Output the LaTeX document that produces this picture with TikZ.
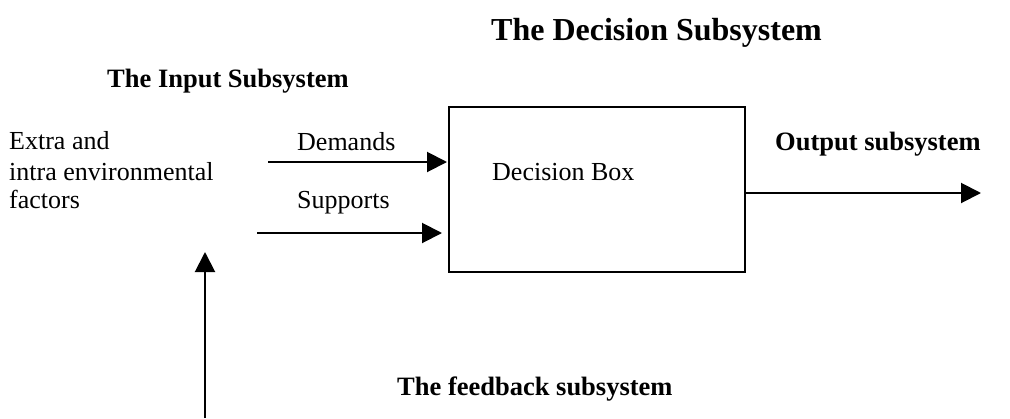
\documentclass[tikz,border=0pt]{standalone}
\usepackage{fontspec}
\setmainfont{Liberation Serif}
\usetikzlibrary{arrows.meta}

\tikzset{
  txt/.style={anchor=base west, inner sep=0pt, font=\fontsize{26}{29.5}\selectfont},
  head/.style={anchor=base west, inner sep=0pt, font=\fontsize{26.5}{30}\selectfont\bfseries},
  title/.style={anchor=base west, inner sep=0pt, font=\fontsize{32}{36}\selectfont\bfseries},
  flow/.style={line width=2pt, -{Triangle[length=20pt,width=20pt]}},
  decbox/.style={draw, line width=2pt, rectangle, minimum width=296pt, minimum height=165pt, inner sep=0pt}
}

\begin{document}
\begin{tikzpicture}[x=1pt, y=-1pt]
  \useasboundingbox (0,0) rectangle (1010,418);

  % headings
  \node[title] (ttl) at (491,40) {The Decision Subsystem};
  \node[head] (inhead) at (107,87) {The Input Subsystem};
  \node[head] (outhead) at (775,150) {Output subsystem};
  \node[head] (fbhead) at (397,395) {The feedback subsystem};

  % environment factors
  \node[txt] (env1) at (9,149) {Extra and};
  \node[txt] (env2) at (9,180) {intra environmental};
  \node[txt] (env3) at (9,208) {factors};

  % decision box
  \node[decbox] (box) at (597,189.5) {};
  \node[txt] (boxlbl) at (492,180) {Decision Box};

  % inputs
  \node[txt] (dem) at (297,150) {Demands};
  \node[txt] (sup) at (297,208) {Supports};
  \coordinate (demIn) at (268,162);
  \coordinate (supIn) at (257,233);
  \draw[flow] (demIn) -- ([xshift=-1pt]demIn -| box.west);
  \draw[flow] (supIn) -- ([xshift=-6pt]supIn -| box.west);

  % output
  \coordinate (outEnd) at (981,193);
  \draw[flow] (box.east |- outEnd) -- (outEnd);

  % feedback
  \coordinate (fbStart) at (205,418);
  \coordinate (fbTop) at (205,252);
  \draw[flow] (fbStart) -- (fbTop);
\end{tikzpicture}
\end{document}
